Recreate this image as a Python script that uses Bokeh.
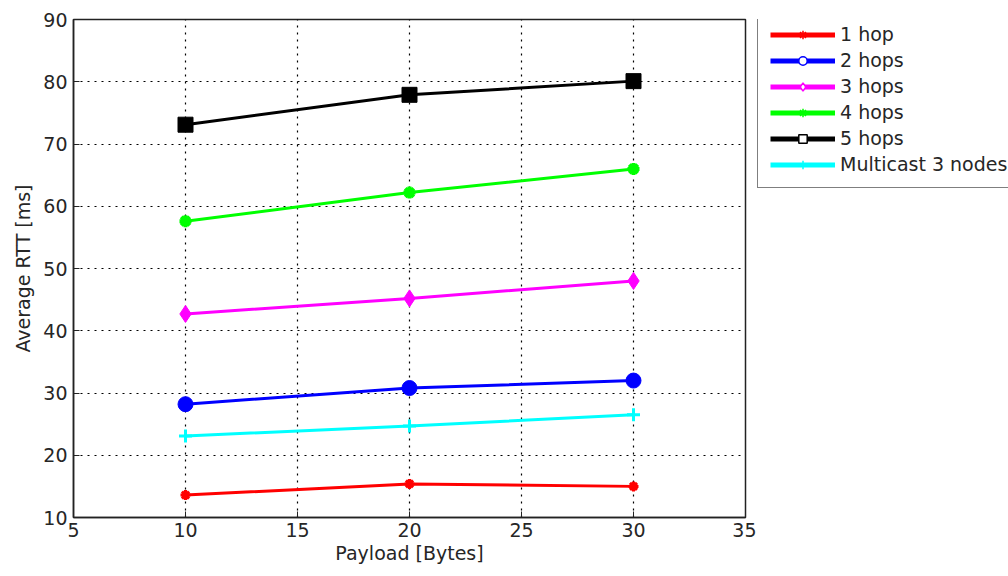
from bokeh.plotting import figure
from bokeh.layouts import row
from bokeh.models import Legend, LegendItem, ColumnDataSource, Range1d, FixedTicker
from bokeh.embed import file_html
from bokeh.resources import INLINE

payload = [10, 20, 30]
rtt_1hop = [13.6, 15.4, 15.0]
rtt_2hops = [28.2, 30.8, 32.0]
rtt_3hops = [42.7, 45.2, 48.0]
rtt_4hops = [57.6, 62.2, 66.0]
rtt_5hops = [73.1, 77.9, 80.1]
rtt_multicast = [23.1, 24.7, 26.5]

series_labels = ["1 hop", "2 hops", "3 hops", "4 hops", "5 hops", "Multicast 3 nodes"]
series_values = [rtt_1hop, rtt_2hops, rtt_3hops, rtt_4hops, rtt_5hops, rtt_multicast]
colors = ["#ff0000", "#0000ff", "#ff00ff", "#00ff00", "#000000", "#00ffff"]
markers = ["asterisk", "circle", "diamond", "asterisk", "square", "cross"]
msizes = [10, 15, 17, 12, 15, 13]
mwidths = [3, 1, 1, 4, 1, 3]

x_ticks = [5, 10, 15, 20, 25, 30, 35]
y_ticks = [10, 20, 30, 40, 50, 60, 70, 80, 90]

FONT = "DejaVu Sans"
TXT = "#262626"

p = figure(frame_width=672, frame_height=498,
           x_range=Range1d(5, 35), y_range=Range1d(10, 90),
           output_backend="svg", toolbar_location=None,
           min_border_left=73, min_border_top=19, min_border_bottom=59,
           min_border_right=11)
p.background_fill_color = "white"
p.border_fill_color = "white"
p.outline_line_color = "#222222"
p.outline_line_width = 1.5

for ax in (p.xaxis[0], p.yaxis[0]):
    ax.major_tick_in = 6
    ax.major_tick_out = 0
    ax.minor_tick_line_color = None
    ax.axis_line_color = "#222222"
    ax.axis_line_width = 1.5
    ax.major_tick_line_color = "#222222"
    ax.major_label_text_font = FONT
    ax.major_label_text_font_size = "19px"
    ax.major_label_text_color = TXT
    ax.axis_label_text_font = FONT
    ax.axis_label_text_font_size = "19px"
    ax.axis_label_text_font_style = "normal"
    ax.axis_label_text_color = TXT

p.xaxis.ticker = FixedTicker(ticks=x_ticks)
p.yaxis.ticker = FixedTicker(ticks=y_ticks)
p.xaxis.axis_label = "Payload [Bytes]"
p.yaxis.axis_label = "Average RTT [ms]"
p.xaxis.axis_label_standoff = 2
p.yaxis.axis_label_standoff = 6
p.xaxis.major_label_standoff = 5
p.yaxis.major_label_standoff = 6

for g in (p.xgrid[0], p.ygrid[0]):
    g.grid_line_color = "black"
    g.grid_line_dash = "2 5"
    g.grid_line_width = 1.2

# legend-only figure placed to the right of the plot (its ranges keep the proxy glyphs out of view)
p2 = figure(width=252, height=576, x_range=Range1d(-100, -99), y_range=Range1d(-100, -99),
            output_backend="svg", toolbar_location=None,
            min_border_left=0, min_border_right=0, min_border_top=19, min_border_bottom=59)
p2.axis.visible = False
p2.grid.visible = False
p2.outline_line_color = None
p2.background_fill_color = "white"
p2.border_fill_color = "white"

items = []
for lab, vals, c, m, s, w in zip(series_labels, series_values, colors, markers, msizes, mwidths):
    src = ColumnDataSource(dict(x=payload, y=vals))
    p.line("x", "y", source=src, line_color=c, line_width=3)
    p.scatter("x", "y", source=src, marker=m, size=s, fill_color=c,
              line_color=c, line_width=w)
    lr = p2.line("x", "y", source=src, line_color=c, line_width=5)
    sr = p2.scatter("x", "y", source=src, marker=m, size=11,
                    fill_color=("white" if m in ("circle", "diamond", "square") else None),
                    line_color=c, line_width=1.5)
    items.append(LegendItem(label=lab, renderers=[lr, sr]))

legend = Legend(items=items, location=(1, 329))
legend.glyph_width = 65
legend.glyph_height = 21
legend.label_height = 21
legend.spacing = 4
legend.padding = 12
legend.margin = 0
legend.label_standoff = 5
legend.label_text_font = FONT
legend.label_text_font_size = "19px"
legend.label_text_color = TXT
legend.border_line_color = "black"
legend.border_line_width = 1.5
legend.background_fill_alpha = 1
p2.add_layout(legend, "center")

layout = row(p, p2, spacing=0)
open("out.html", "w").write(file_html(layout, INLINE))
